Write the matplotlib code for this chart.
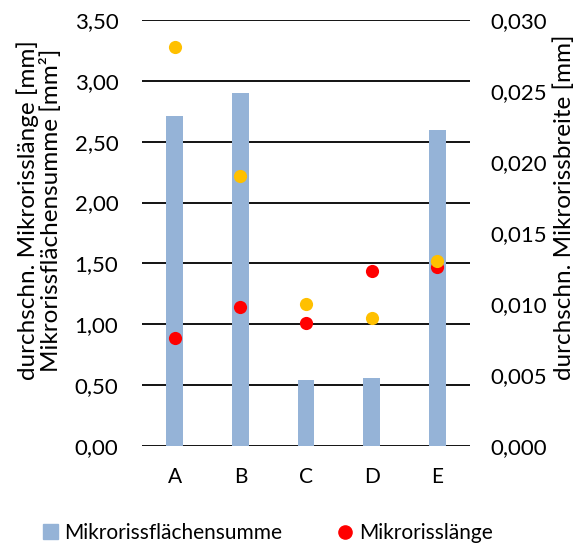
import matplotlib.pyplot as plt
from matplotlib.lines import Line2D
from matplotlib.patches import Patch
from matplotlib.ticker import FuncFormatter

plt.rcParams['font.family'] = ['Lato', 'DejaVu Sans']

proben = ['A', 'B', 'C', 'D', 'E']
flaechensumme = [2.71, 2.90, 0.54, 0.56, 2.60]      # mm²
risslaenge = [0.89, 1.14, 1.01, 1.44, 1.47]         # mm
rissbreite = [0.0281, 0.0190, 0.0100, 0.0090, 0.0130]  # mm

fs = 15

fig = plt.figure(figsize=(5.81, 5.48), dpi=100)
ax = fig.add_axes([142 / 581, 102 / 548, 328 / 581, 426 / 548])
ax2 = ax.twinx()

x = range(len(proben))
ax.bar(x, flaechensumme, width=0.255, color='#95B3D7', zorder=3)
ax.scatter(x, risslaenge, s=90, color='#FF0000', zorder=4, linewidths=0)
ax2.scatter(x, rissbreite, s=90, color='#FFC000', zorder=4, linewidths=0)

ax.set_xlim(-0.5, 4.5)
ax.set_ylim(0, 3.5)
ax2.set_ylim(0, 0.03)
ax.set_yticks([i * 0.5 for i in range(8)])
ax2.set_yticks([i * 0.005 for i in range(7)])
ax.yaxis.set_major_formatter(FuncFormatter(lambda v, p: f'{v:.2f}'.replace('.', ',')))
ax2.yaxis.set_major_formatter(FuncFormatter(lambda v, p: f'{v:.3f}'.replace('.', ',')))
ax.set_xticks(list(x))
ax.set_xticklabels(proben)

ax.grid(axis='y', color='black', linewidth=1.3, zorder=1)
ax.set_axisbelow(True)
for a in (ax, ax2):
    for s in a.spines.values():
        s.set_visible(False)
    a.tick_params(length=0, labelsize=16)
ax.tick_params(axis='x', labelsize=fs, pad=15)
ax.tick_params(axis='y', pad=17)
ax2.tick_params(axis='y', pad=14.5)
ax2.patch.set_visible(False)

ax.set_ylabel('durchschn. Mikrorisslänge [mm]\nMikrorissflächensumme [mm²]',
              fontsize=17.5, linespacing=1.05)
ax.yaxis.set_label_coords(-0.244, 0.554)
ax2.set_ylabel('durchschn. Mikrorissbreite [mm]', fontsize=17.5)
ax2.yaxis.set_label_coords(1.253, 0.561)

handles = [
    Patch(color='#95B3D7'),
    Line2D([], [], marker='o', linestyle='none', color='#FF0000', markersize=9.5),
]
fig.legend(handles, ['Mikrorissflächensumme', 'Mikrorisslänge'],
           loc='center', bbox_to_anchor=(0.461, 1 - 533 / 548), ncol=2,
           frameon=False, fontsize=fs, handlelength=0.7, handletextpad=0.3,
           columnspacing=2.7)

fig.savefig('out.png', dpi=100)
